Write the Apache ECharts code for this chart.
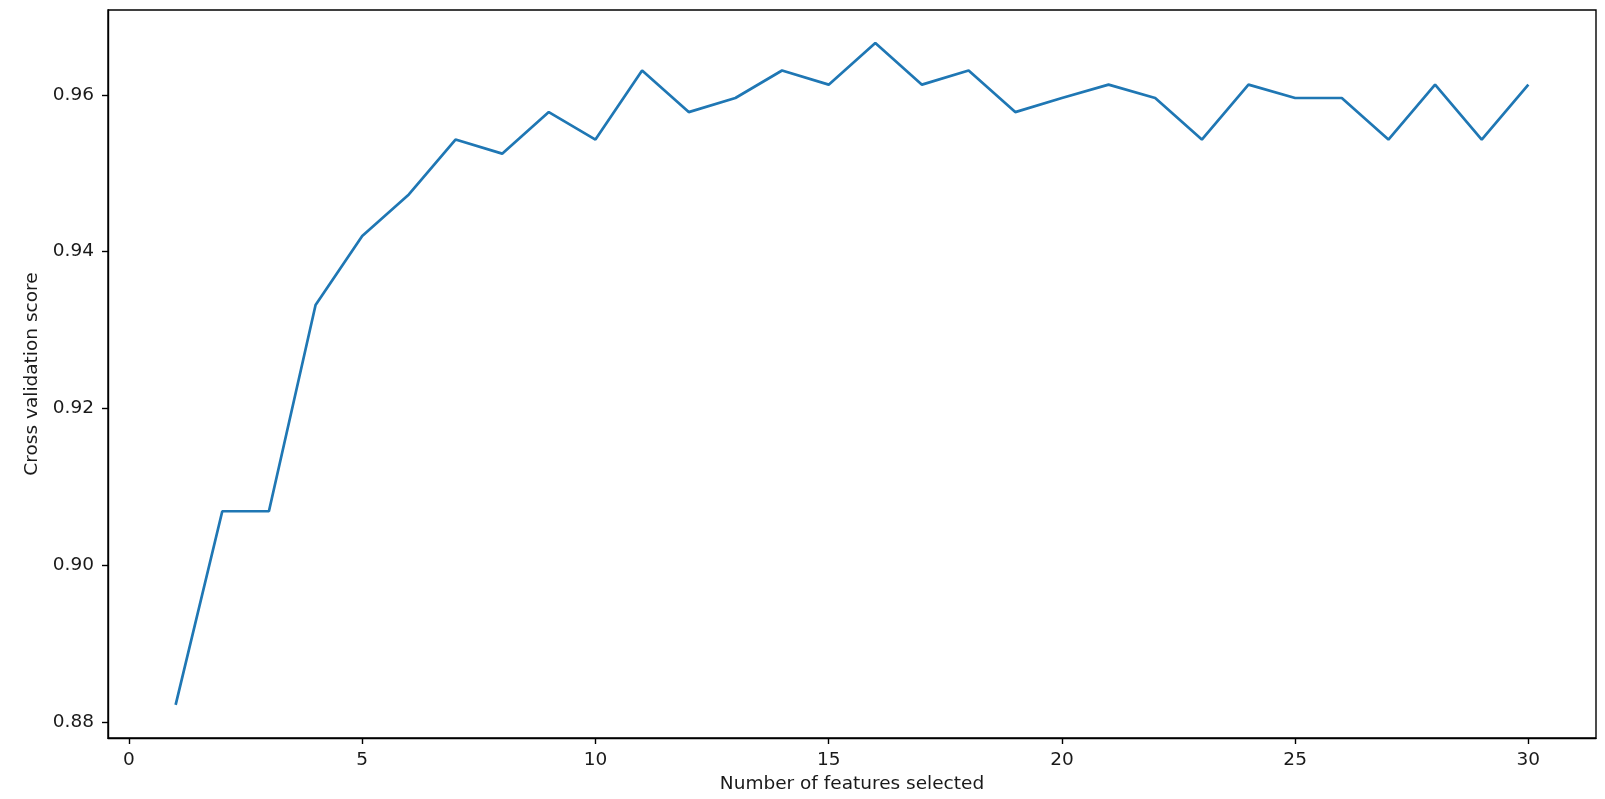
<!DOCTYPE html>
<html>
<head>
<meta charset="utf-8">
<script src="https://cdn.jsdelivr.net/npm/echarts@6/dist/echarts.min.js"></script>
<style>
html,body{margin:0;padding:0;background:#fff;}
#chart{width:1605px;height:799px;}
</style>
</head>
<body>
<div id="chart"></div>
<script>
// Number of features selected
var featureCounts = [1,2,3,4,5,6,7,8,9,10,11,12,13,14,15,16,17,18,19,20,21,22,23,24,25,26,27,28,29,30];
// Cross validation score
var cvScores = [0.8822,0.9069,0.9069,0.9332,0.9420,0.9473,0.9543,0.9525,0.9578,0.9543,
                0.9631,0.9578,0.9596,0.9631,0.9613,0.9666,0.9613,0.9631,0.9578,0.9596,
                0.9613,0.9596,0.9543,0.9613,0.9596,0.9596,0.9543,0.9613,0.9543,0.9613];
var xTicks = [0,5,10,15,20,25,30];
var yTicks = [0.88,0.90,0.92,0.94,0.96];

var xMinData = Math.min.apply(null, featureCounts), xMaxData = Math.max.apply(null, featureCounts);
var yMinData = Math.min.apply(null, cvScores), yMaxData = Math.max.apply(null, cvScores);
var xPad = (xMaxData - xMinData) * 0.05, yPad = (yMaxData - yMinData) * 0.05;

var chart = echarts.init(document.getElementById('chart'), null, {renderer:'canvas'});
var font = 'DejaVu Sans';
var textColor = '#1a1a1a';
chart.setOption({
  animation: false,
  backgroundColor: '#fff',
  grid: {left:108, top:10, right:9, bottom:61, show:true, borderColor:'#000', borderWidth:1.4, backgroundColor:'transparent'},
  xAxis: {
    type:'value', min: xMinData - xPad, max: xMaxData + xPad,
    axisLine:{show:true, onZero:false, lineStyle:{color:'#000', width:1.4}},
    splitLine:{show:false},
    axisTick:{show:true, length:6, inside:false, lineStyle:{color:'#000', width:1.4}, customValues: xTicks},
    axisLabel:{show:true, margin:13, color:textColor, fontFamily:font, fontSize:18.5, customValues: xTicks, formatter: function(v){return String(v);}},
    name:'Number of features selected', nameLocation:'middle', nameGap:37,
    nameTextStyle:{color:textColor, fontFamily:font, fontSize:18.5}
  },
  yAxis: {
    type:'value', min: yMinData - yPad, max: yMaxData + yPad,
    axisLine:{show:true, onZero:false, lineStyle:{color:'#000', width:1.4}},
    splitLine:{show:false},
    axisTick:{show:true, length:6, inside:false, lineStyle:{color:'#000', width:1.4}, customValues: yTicks},
    axisLabel:{show:true, margin:14, color:textColor, fontFamily:font, fontSize:18.5, customValues: yTicks, formatter: function(v){return v.toFixed(2);}},
    name:'Cross validation score', nameLocation:'middle', nameGap:66,
    nameTextStyle:{color:textColor, fontFamily:font, fontSize:18.5}
  },
  series: [{
    type:'line',
    data: featureCounts.map(function(x,i){return [x, cvScores[i]];}),
    showSymbol:false, symbol:'none',
    lineStyle:{color:'#1f77b4', width:2.7},
    itemStyle:{color:'#1f77b4'}
  }]
});
</script>
</body>
</html>
